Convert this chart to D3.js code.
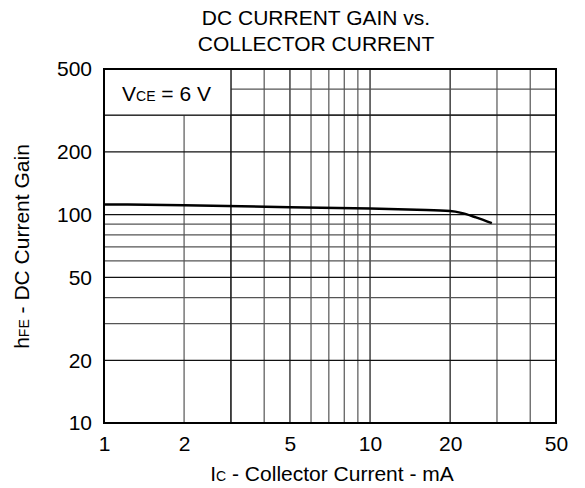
<!DOCTYPE html>
<html>
<head>
<meta charset="utf-8">
<script src="https://cdn.jsdelivr.net/npm/d3@7"></script>
<style>
body { margin: 0; background: #fff; }
text { font-family: "Liberation Sans", Arial, sans-serif; fill: #000; }
</style>
</head>
<body>
<svg></svg>
<script>
// values
var current = [1, 2, 5, 10, 15, 20, 22, 25, 28.7];
var gain = [112, 111, 108.5, 107, 105.5, 104, 102, 97, 91];

var xTicks = [1, 2, 5, 10, 20, 50];
var yTicks = [10, 20, 50, 100, 200, 500];
var xGrid = [2, 3, 4, 5, 6, 7, 8, 9, 10, 20, 30, 40];
var yGrid = [20, 30, 40, 50, 60, 70, 80, 90, 100, 200, 300, 400];

var screen = {width: 585, height: 488};
var margins = {top: 69, right: 29, bottom: 65, left: 104};

var width = screen.width - margins.left - margins.right;
var height = screen.height - margins.top - margins.bottom;

var svg = d3.select("svg")
    .attr("width", screen.width)
    .attr("height", screen.height);

var xScale = d3.scaleLog().domain([1, 50]).range([0, width]);
var yScale = d3.scaleLog().domain([10, 500]).range([height, 0]);

var g = svg.append("g")
    .attr("transform", "translate(" + margins.left + "," + margins.top + ")");

// grid
g.selectAll(".vgrid")
    .data(xGrid)
    .enter()
    .append("line")
    .attr("x1", function(d){ return xScale(d); })
    .attr("x2", function(d){ return xScale(d); })
    .attr("y1", 0)
    .attr("y2", height)
    .attr("stroke", function(d){ return (d == 5 || d == 10 || d == 20) ? "#111" : "#555"; })
    .attr("stroke-width", 1.2);

g.selectAll(".hgrid")
    .data(yGrid)
    .enter()
    .append("line")
    .attr("x1", 0)
    .attr("x2", width)
    .attr("y1", function(d){ return yScale(d); })
    .attr("y2", function(d){ return yScale(d); })
    .attr("stroke", function(d){ return (d == 100 || d == 200 || d == 50 || d == 20) ? "#111" : "#555"; })
    .attr("stroke-width", 1.2);

// label box covers the grid in the corner
g.append("rect")
    .attr("x", 0)
    .attr("y", 0)
    .attr("width", xScale(3))
    .attr("height", yScale(300))
    .attr("fill", "#fff");
g.append("line")
    .attr("x1", xScale(3)).attr("x2", xScale(3))
    .attr("y1", 0).attr("y2", height)
    .attr("stroke", "#111").attr("stroke-width", 1.2);
g.append("line")
    .attr("x1", 0).attr("x2", width)
    .attr("y1", yScale(300)).attr("y2", yScale(300))
    .attr("stroke", "#111").attr("stroke-width", 1.2);

var vce = g.append("text")
    .attr("x", 18)
    .attr("y", 32)
    .attr("font-size", 21);
vce.append("tspan").text("V");
vce.append("tspan").attr("font-size", 14).text("CE");
vce.append("tspan").text(" = 6 V");

// frame
g.append("rect")
    .attr("width", width)
    .attr("height", height)
    .attr("fill", "none")
    .attr("stroke", "#000")
    .attr("stroke-width", 2);

// curve
g.append("path")
    .datum(d3.zip(current, gain))
    .attr("fill", "none")
    .attr("stroke", "#000")
    .attr("stroke-width", 2.5)
    .attr("d", d3.line()
        .curve(d3.curveMonotoneX)
        .x(function(d){ return xScale(d[0]); })
        .y(function(d){ return yScale(d[1]); }));

// axes
var xAxis = d3.axisBottom(xScale).tickValues(xTicks).tickFormat(d3.format("d")).tickSize(0).tickPadding(13);
var yAxis = d3.axisLeft(yScale).tickValues(yTicks).tickFormat(d3.format("d")).tickSize(0).tickPadding(12);

var xa = g.append("g")
    .attr("transform", "translate(0," + height + ")")
    .call(xAxis);
var ya = g.append("g").call(yAxis);
xa.select(".domain").remove();
ya.select(".domain").remove();
xa.selectAll("text").attr("font-size", 21).attr("font-family", "Liberation Sans, Arial, sans-serif");
ya.selectAll("text").attr("font-size", 21).attr("font-family", "Liberation Sans, Arial, sans-serif");

// titles
svg.append("text")
    .attr("x", 316).attr("y", 25)
    .attr("text-anchor", "middle")
    .attr("font-size", 21)
    .text("DC CURRENT GAIN vs.");
svg.append("text")
    .attr("x", 316).attr("y", 51)
    .attr("text-anchor", "middle")
    .attr("font-size", 21)
    .text("COLLECTOR CURRENT");

var xt = svg.append("text")
    .attr("x", 332)
    .attr("y", 481)
    .attr("text-anchor", "middle")
    .attr("font-size", 21);
xt.append("tspan").text("I");
xt.append("tspan").attr("font-size", 14).text("C");
xt.append("tspan").text(" - Collector Current - mA");

var yt = svg.append("text")
    .attr("transform", "translate(28.5,246.5) rotate(-90)")
    .attr("text-anchor", "middle")
    .attr("font-size", 21);
yt.append("tspan").text("h");
yt.append("tspan").attr("font-size", 14).text("FE");
yt.append("tspan").text(" - DC Current Gain");
</script>
</body>
</html>
